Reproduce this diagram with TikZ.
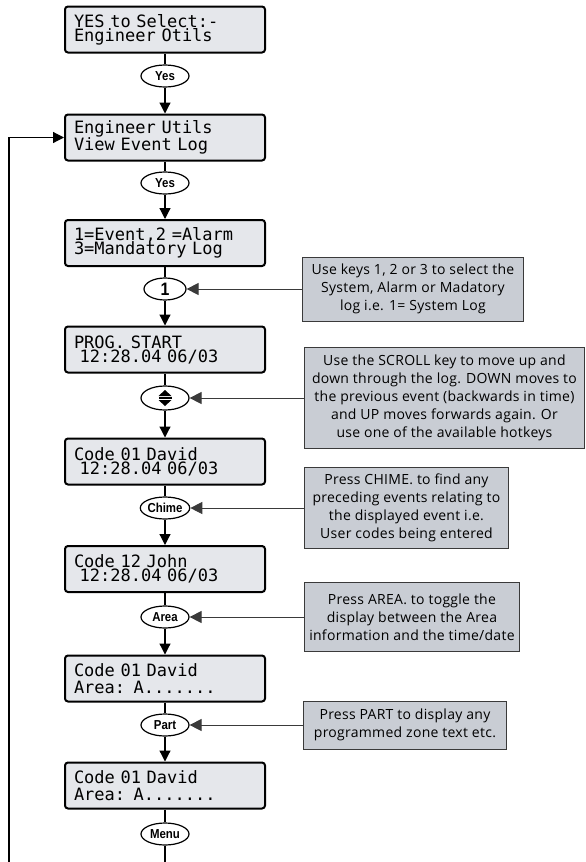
\documentclass[tikz,border=0pt]{standalone}
\usepackage{fontspec}
\usepackage{tikz}
\usetikzlibrary{arrows.meta,shapes.geometric}
\newfontfamily\lcdfont{DejaVu Sans Mono}
\newfontfamily\hintfont[LetterSpace=2]{Open Sans}
\newfontfamily\keyfont[FakeStretch=0.88]{Liberation Sans}
\newcommand\lcdtype{\lcdfont\fontsize{17}{17}\selectfont
  \fontdimen2\font=0.602em\fontdimen3\font=0pt\fontdimen4\font=0pt}
\definecolor{LcdGrey}{HTML}{E5E7EB}
\definecolor{HintGrey}{HTML}{C9CDD4}
\definecolor{HintEdge}{HTML}{3A3A3A}
\tikzset{
  lcd/.style={draw=black, line width=2pt, rounded corners=3pt, fill=LcdGrey,
    minimum height=46pt, text width=182pt, inner xsep=9pt, inner ysep=0pt,
    align=left, font=\lcdtype},
  keypress/.style={ellipse, draw=black, line width=1.2pt, fill=white,
    minimum width=48pt, minimum height=22pt, inner sep=0pt,
    font=\keyfont\bfseries\fontsize{13}{13}\selectfont},
  hint/.style={draw=HintEdge, line width=0.9pt, fill=HintGrey, inner sep=0pt,
    anchor=west, align=center, font=\hintfont\fontsize{14}{18}\selectfont},
  link/.style={line width=2.2pt},
  flow/.style={-{Triangle[length=11pt,width=11pt]}, line width=1.2pt},
  pointer/.style={-{Triangle[length=12pt,width=12pt]}, line width=0.9pt, draw=HintEdge}
}

\begin{document}
\begin{tikzpicture}[x=1pt,y=-1pt]
  \useasboundingbox (0,0) rectangle (586,862);

  \node[lcd] (select) at (165,29.5) {YES to Select:-\\[-3pt]Engineer Otils};
  \node[keypress] (yes1) at (165,76) {Yes};
  \node[lcd] (utils) at (165,137.5) {Engineer Utils\\View Event Log};
  \node[keypress] (yes2) at (165,183) {Yes};
  \node[lcd] (logtype) at (165,243) {1=Event,2 =Alarm\\[-3pt]3=Mandatory Log};
  \node[keypress, minimum width=42pt, font=\keyfont\bfseries\fontsize{18}{18}\selectfont] (one) at (165,289) {1};
  \node[lcd] (progstart) at (165,349.5) {PROG. START\\[-3pt]~12:28.04 06/03};
  \node[keypress, minimum height=24pt] (scroll) at (165,398) {};
  \node[lcd] (david) at (165,461.5) {Code 01 David\\[-3pt]~12:28.04 06/03};
  \node[keypress] (chime) at (165,508) {Chime};
  \node[lcd] (john) at (165,569) {Code 12 John\\[-3pt]~12:28.04 06/03};
  \node[keypress] (area) at (165,617) {Area};
  \node[lcd] (davidarea) at (165,678.5) {Code 01 David\\Area: A.......};
  \node[keypress] (part) at (165,725) {Part};
  \node[lcd] (davidpart) at (165,785.5) {Code 01 David\\Area: A.......};
  \node[keypress] (menu) at (165,834) {Menu};
  \coordinate (flowend) at (165,862);
  \coordinate (loopend) at (9,862);

  \fill ([shift={(-6.5,-2)}]scroll.center) -- ([shift={(6.5,-2)}]scroll.center) -- ([shift={(0,-8)}]scroll.center) -- cycle;
  \fill ([shift={(-6.5,2)}]scroll.center) -- ([shift={(6.5,2)}]scroll.center) -- ([shift={(0,8)}]scroll.center) -- cycle;
  \fill ([shift={(-6.5,-0.6)}]scroll.center) rectangle ([shift={(6.5,0.6)}]scroll.center);

  \node[hint, minimum width=221pt, minimum height=64pt] (hintkeys) at (302,289)
    {Use keys 1, 2 or 3 to select the\\System, Alarm or Madatory\\log i.e. 1= System Log};
  \node[hint, minimum width=280pt, minimum height=101pt] (hintscroll) at (304,398)
    {Use the SCROLL key to move up and\\down through the log. DOWN moves to\\the previous event (backwards in time)\\and UP moves forwards again. Or\\use one of the available hotkeys};
  \node[hint, minimum width=204pt, minimum height=81pt] (hintchime) at (304,508)
    {Press CHIME. to find any\\preceding events relating to\\the displayed event i.e.\\User codes being entered};
  \node[hint, minimum width=215pt, minimum height=69pt] (hintarea) at (304,617)
    {Press AREA. to toggle the\\display between the Area\\information and the time/date};
  \node[hint, minimum width=203pt, minimum height=48pt] (hintpart) at (303,725)
    {Press PART to display any\\programmed zone text etc.};

  \foreach \screen/\key/\next in {select/yes1/utils, utils/yes2/logtype, logtype/one/progstart,
      progstart/scroll/david, david/chime/john, john/area/davidarea, davidarea/part/davidpart} {
    \draw[link] (\screen) -- (\key);
    \draw[flow] (\key) -- (\next);
  }
  \draw[link] (davidpart) -- (menu);
  \draw[line width=1.2pt] (menu) -- (flowend);
  \draw[flow] (loopend) |- (utils.west);

  \foreach \hint/\key in {hintkeys/one, hintscroll/scroll, hintchime/chime, hintarea/area, hintpart/part}
    \draw[pointer] (\hint) -- (\key);
\end{tikzpicture}
\end{document}
